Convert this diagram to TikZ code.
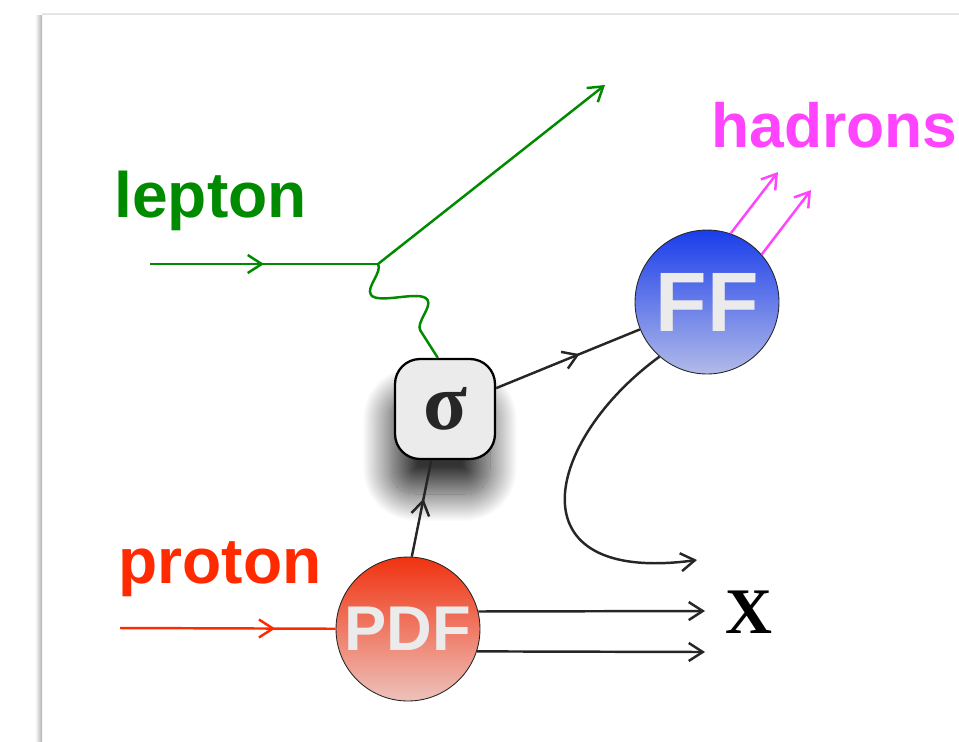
\documentclass[tikz,border=0pt]{standalone}
\usepackage{fontspec}
\setmainfont{Liberation Serif}
\setsansfont{Liberation Sans}
\usetikzlibrary{arrows.meta,positioning,calc,decorations.pathmorphing,decorations.markings,shadows.blur}
\definecolor{clep}{HTML}{008A00}
\definecolor{cpro}{HTML}{FF2A00}
\definecolor{chad}{HTML}{FF44FF}
\definecolor{cfft}{HTML}{1A3DEB}
\definecolor{cffb}{HTML}{B2BBE8}
\definecolor{cpdft}{HTML}{F03210}
\definecolor{cpdfb}{HTML}{EEC2BB}
\definecolor{cbox}{HTML}{EBEBEB}
\tikzset{
  blob/.style={circle,draw=black!85,line width=0.5pt,minimum size=2.88cm,inner sep=0pt,text=cbox,font=\sffamily\bfseries},
  xsecbox/.style={rectangle,rounded corners=0.5cm,draw,line width=1.3pt,fill=cbox,minimum size=2cm,inner sep=0pt,
    font=\fontsize{46}{46}\selectfont\bfseries,text=black!85,
    blur shadow={shadow xshift=-0.1cm,shadow yshift=-0.7cm,shadow blur radius=0.55cm,shadow opacity=80,shadow blur steps=40}},
  lbl/.style={inner sep=0pt,font=\fontsize{36.5}{36.5}\selectfont\sffamily\bfseries},
  line/.style={line width=1.4pt},
  midarrow/.style={postaction={decorate},decoration={markings,mark=at position #1 with {\arrow{>}}}},
}

\begin{document}
\begin{tikzpicture}[x=0.02cm,y=-0.02cm,>={Straight Barb[length=2.8mm,width=3.6mm]}]
  \useasboundingbox (0,0) rectangle (959,741);
  % page edge
  \shade[left color=white,right color=black!30] (35,15) rectangle (42,741);
  \draw[black!10,line width=1pt] (42,14) -- (959,14);
  % labels
  \node[lbl,text=clep,anchor=base west] (leplbl) at (114,217) {lepton};
  \node[lbl,text=cpro,anchor=base west] (prolbl) at (118,583) {proton};
  \node[lbl,text=chad,anchor=base west,font=\fontsize{35.5}{35.5}\selectfont\sffamily\bfseries] (hadlbl) at (711,147) {hadrons};
  \node[inner sep=0pt,anchor=base,font=\fontsize{37}{37}\selectfont\bfseries] (xlbl) at (749,633) {X};
  % blobs
  \node[xsecbox] (xsec) at (445,409) {σ};
  \node[blob,top color=cfft,bottom color=cffb,font=\fontsize{48}{48}\selectfont\sffamily\bfseries] (ff) at (707,302) {FF};
  \node[blob,top color=cpdft,bottom color=cpdfb,font=\fontsize{36}{36}\selectfont\sffamily\bfseries] (pdf) at (408,629) {PDF};
  % free ends
  \coordinate (lin) at (150,264);
  \coordinate (lv) at (378,264);
  \coordinate (lout) at (605,85);
  \coordinate (pin) at (120,628);
  \coordinate (h1) at (778,172);
  \coordinate (h2) at (811,190);
  \coordinate (x0) at (697,560);
  \coordinate (x1) at (705,611);
  \coordinate (x2) at (705,652);
  % lepton side
  \draw[line,clep,midarrow=0.5] (lin) -- (lv);
  \draw[line,clep,->] (lv) -- (lout);
  \draw[line,clep,decorate,decoration={snake,mirror,segment length=1.4cm,amplitude=0.45cm,post length=0.1cm}] (lv) -- (xsec.98);
  % proton side
  \draw[line,cpro,midarrow=0.72] (pin) -- (pdf);
  \draw[line,black!85,midarrow=0.6] (pdf.87) -- (xsec.255);
  \draw[line,black!85,->] (pdf.14) -- (x1);
  \draw[line,black!85,->] (pdf.-18.6) -- (x2);
  % fragmentation
  \draw[line,black!85,midarrow=0.58] (xsec) -- (ff);
  \draw[line,black!85,->] (ff.229) .. controls (545,440) and (510,585) .. (x0);
  \draw[line,chad,->] (ff.71) -- (h1);
  \draw[line,chad,->] (ff.41) -- (h2);
\end{tikzpicture}
\end{document}
